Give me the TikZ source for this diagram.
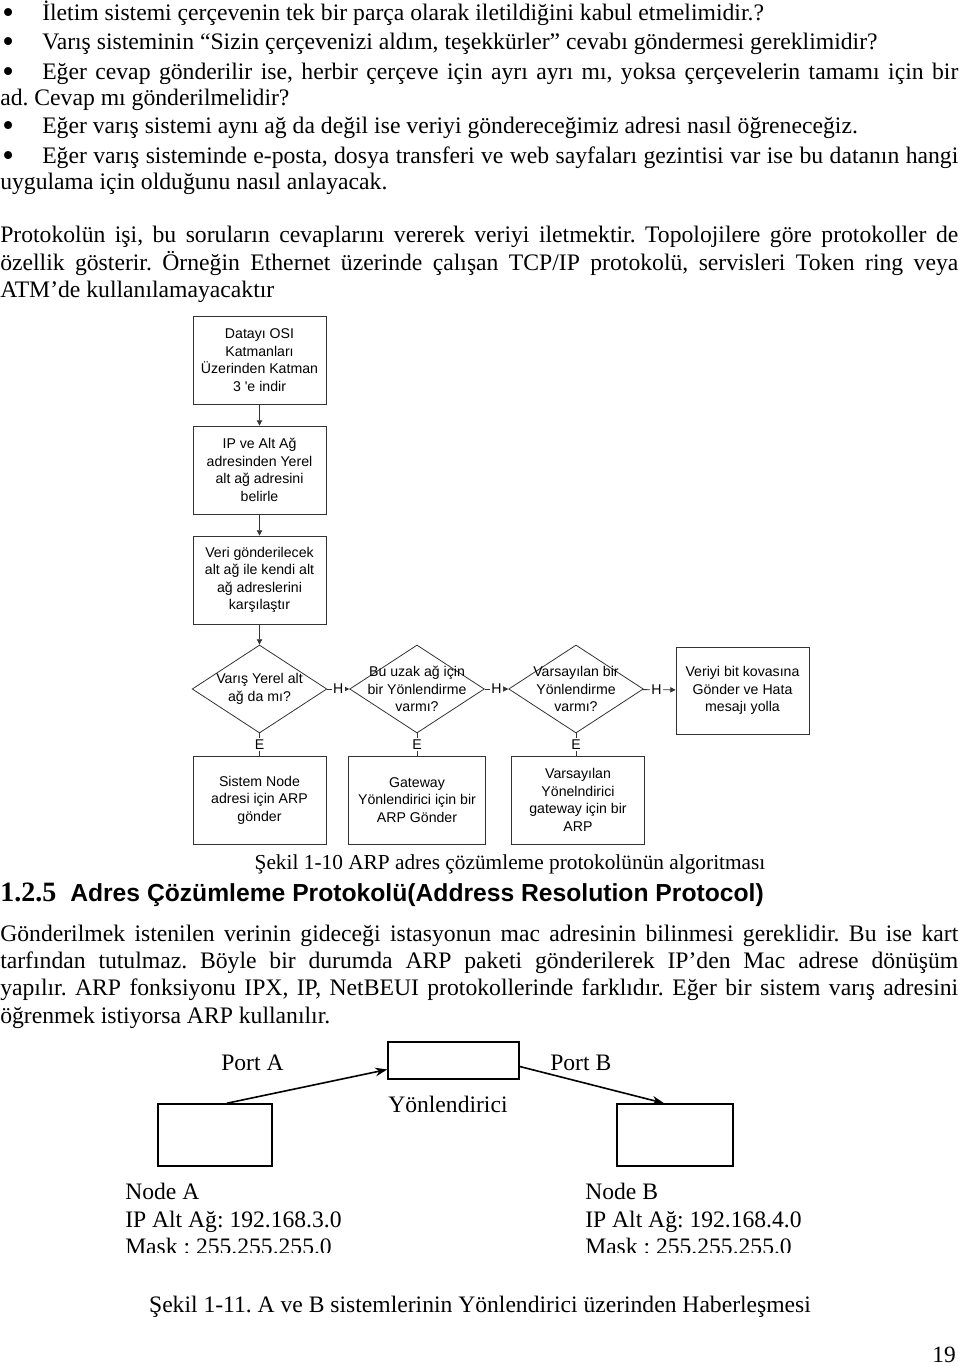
\documentclass[tikz,border=0pt]{standalone}
\usepackage{fontspec}
\setmainfont{Liberation Serif}
\setsansfont{Liberation Sans}
\usetikzlibrary{shapes.geometric,arrows.meta}

\newcommand{\bodyfont}{\fontsize{17.75}{21}\selectfont\frenchspacing}
\newcommand{\netfont}{\fontsize{17.7}{21}\selectfont\frenchspacing}
\newcommand{\boxfont}{\fontsize{10.6}{13.1}\selectfont\sffamily}
\newcommand{\fullline}[1]{\makebox[718.5pt][s]{#1}}
\newcommand{\bulletline}[1]{\makebox[687pt][s]{#1}}

\begin{document}
\begin{tikzpicture}[x=0.75pt, y=-0.75pt,
    txt/.style={anchor=base west, inner sep=0pt, font=\bodyfont},
    stepbox/.style={draw=black!80, line width=0.6pt, rectangle, minimum width=99.75pt,
        minimum height=66pt, align=center, inner sep=1pt, font=\boxfont},
    ask/.style={draw=black!80, line width=0.6pt, diamond, minimum width=101pt,
        minimum height=66pt, inner sep=0pt},
    asktext/.style={align=center, inner sep=0pt, font=\boxfont},
    flow/.style={draw=black!80, line width=0.6pt, -{Triangle[length=4pt,width=4pt]}},
    tag/.style={fill=white, inner sep=1.2pt, font=\boxfont},
    netbox/.style={draw, line width=1.2pt, rectangle, inner sep=0pt},
    netarrow/.style={line width=1.2pt, -{Stealth[length=9pt,width=6.5pt]}},
    nettxt/.style={anchor=base west, inner sep=0pt, font=\netfont}]
    \useasboundingbox (0,0) rectangle (960,1366);

    \foreach \y/\n in {21/a, 50/b, 80/c, 134/d, 164/e}
        \node[txt] (bullet\n) at (2,\y) {\raisebox{-2.2pt}{\scalebox{1.4}{•}}};
    \node[txt] (line1) at (42,21) {İletim sistemi çerçevenin tek bir parça olarak iletildiğini kabul etmelimidir.?};
    \node[txt] (line2) at (42,50) {Varış sisteminin “Sizin çerçevenizi aldım, teşekkürler” cevabı göndermesi gereklimidir?};
    \node[txt] (line3) at (42,80) {\bulletline{Eğer cevap gönderilir ise, herbir çerçeve için ayrı ayrı mı, yoksa çerçevelerin tamamı için bir}};
    \node[txt] (line4) at (0,106) {ad. Cevap mı gönderilmelidir?};
    \node[txt] (line5) at (42,134) {Eğer varış sistemi aynı ağ da değil ise veriyi göndereceğimiz adresi nasıl öğreneceğiz.};
    \node[txt] (line6) at (42,164) {\bulletline{Eğer varış sisteminde e-posta, dosya transferi ve web sayfaları gezintisi var ise bu datanın hangi}};
    \node[txt] (line7) at (0,190) {uygulama için olduğunu nasıl anlayacak.};
    \node[txt] (par1) at (0,242) {\fullline{Protokolün işi, bu soruların cevaplarını vererek veriyi iletmektir. Topolojilere göre protokoller de}};
    \node[txt] (par2) at (0,270) {\fullline{özellik gösterir. Örneğin Ethernet üzerinde çalışan TCP/IP protokolü, servisleri Token ring veya}};
    \node[txt] (par3) at (0,297) {ATM’de kullanılamayacaktır};

    \node[stepbox] (osi) at (259.5,360) {Datayı OSI\\Katmanları\\Üzerinden Katman\\3 \textquotesingle e indir};
    \node[stepbox] (subnet) at (259.5,470) {IP ve Alt Ağ\\adresinden Yerel\\alt ağ adresini\\belirle};
    \node[stepbox] (compare) at (259.5,580) {Veri gönderilecek\\alt ağ ile kendi alt\\ağ adreslerini\\karşılaştır};
    \node[ask] (local) at (259.5,689) {};
    \node[asktext] (localq) at (local) {Varış Yerel alt\\ağ da mı?};
    \node[ask] (route) at (417,689) {};
    \node[asktext] (routeq) at (route) {Bu uzak ağ için\\bir Yönlendirme\\varmı?};
    \node[ask] (default) at (576,689) {};
    \node[asktext] (defaultq) at (default) {Varsayılan bir\\Yönlendirme\\varmı?};
    \node[stepbox, minimum height=65.25pt] (drop) at (742.5,690.5) {Veriyi bit kovasına\\Gönder ve Hata\\mesajı yolla};
    \node[stepbox] (arpnode) at (259.5,800) {Sistem Node\\adresi için ARP\\gönder};
    \node[stepbox, minimum width=102.75pt] (arpgw) at (417,800) {Gateway\\Yönlendirici için bir\\ARP Gönder};
    \node[stepbox] (arpdef) at (578,800) {Varsayılan\\Yönelndirici\\gateway için bir\\ARP};

    \draw[flow] (osi) -- (subnet);
    \draw[flow] (subnet) -- (compare);
    \draw[flow] (compare) -- (local);
    \draw[flow] (local) -- node[tag] (h1) {H} (route);
    \draw[flow] (route) -- node[tag] (h2) {H} (default);
    \draw[flow] (default) -- node[tag, pos=0.42] (h3) {H} (drop);
    \draw[draw=black!80, line width=0.6pt] (local) -- node[tag] (e1) {E} (arpnode);
    \draw[draw=black!80, line width=0.6pt] (route) -- node[tag] (e2) {E} (arpgw);
    \draw[draw=black!80, line width=0.6pt] (default.south) -- node[tag] (e3) {E} (arpdef.north -| default.south);

    \node[anchor=base, inner sep=0pt, font=\fontsize{16}{19}\selectfont] (cap1) at (510,869)
        {Şekil 1-10 ARP adres çözümleme protokolünün algoritması};
    \node[anchor=base west, inner sep=0pt, font=\fontsize{18.5}{22}\selectfont] (head) at (0,901)
        {\makebox[52.5pt][l]{\fontsize{21}{22}\selectfont\bfseries 1.2.5}{\sffamily\bfseries Adres Çözümleme Protokolü(Address Resolution Protocol)}};
    \node[txt] (gpar1) at (0,941) {\fullline{Gönderilmek istenilen verinin gideceği istasyonun mac adresinin bilinmesi gereklidir. Bu ise kart}};
    \node[txt] (gpar2) at (0,968) {\fullline{tarfından tutulmaz. Böyle bir durumda ARP paketi gönderilerek IP’den Mac adrese dönüşüm}};
    \node[txt] (gpar3) at (0,995) {\fullline{yapılır. ARP fonksiyonu IPX, IP, NetBEUI protokollerinde farklıdır. Eğer bir sistem varış adresini}};
    \node[txt] (gpar4) at (0,1023) {öğrenmek istiyorsa ARP kullanılır.};

    \node[netbox, minimum width=98.25pt, minimum height=27.75pt] (router) at (453.5,1060.5) {};
    \node[netbox, minimum width=85.5pt, minimum height=46.5pt] (hostA) at (215,1135) {};
    \node[netbox, minimum width=87pt, minimum height=46.5pt] (hostB) at (675,1135) {};
    \draw[netarrow] ([xshift=9pt]hostA.north) -- ([yshift=-6.75pt]router.west);
    \draw[netarrow] ([yshift=-4.5pt]router.east) -- ([xshift=-8.25pt]hostB.north);
    \node[nettxt] (portA) at (221,1070) {Port A};
    \node[nettxt] (portB) at (550,1070) {Port B};
    \node[nettxt] (routername) at (388,1112) {Yönlendirici};
    \node[nettxt] (nameA) at (125,1199) {Node A};
    \node[nettxt] (ipA) at (125,1227) {IP Alt Ağ: 192.168.3.0};
    \node[nettxt] (nameB) at (585,1199) {Node B};
    \node[nettxt] (ipB) at (585,1227) {IP Alt Ağ: 192.168.4.0};
    \begin{scope}
        \clip (100,1228) rectangle (900,1252);
        \node[nettxt] (maskA) at (125,1254) {Mask : 255.255.255.0};
        \node[nettxt] (maskB) at (585,1254) {Mask : 255.255.255.0};
    \end{scope}
    \node[anchor=base, inner sep=0pt, font=\netfont] (cap2) at (480,1312)
        {Şekil 1-11. A ve B sistemlerinin Yönlendirici üzerinden Haberleşmesi};
    \node[anchor=base east, inner sep=0pt, font=\fontsize{17.5}{21}\selectfont] (pageno) at (956,1362) {19};
\end{tikzpicture}
\end{document}
